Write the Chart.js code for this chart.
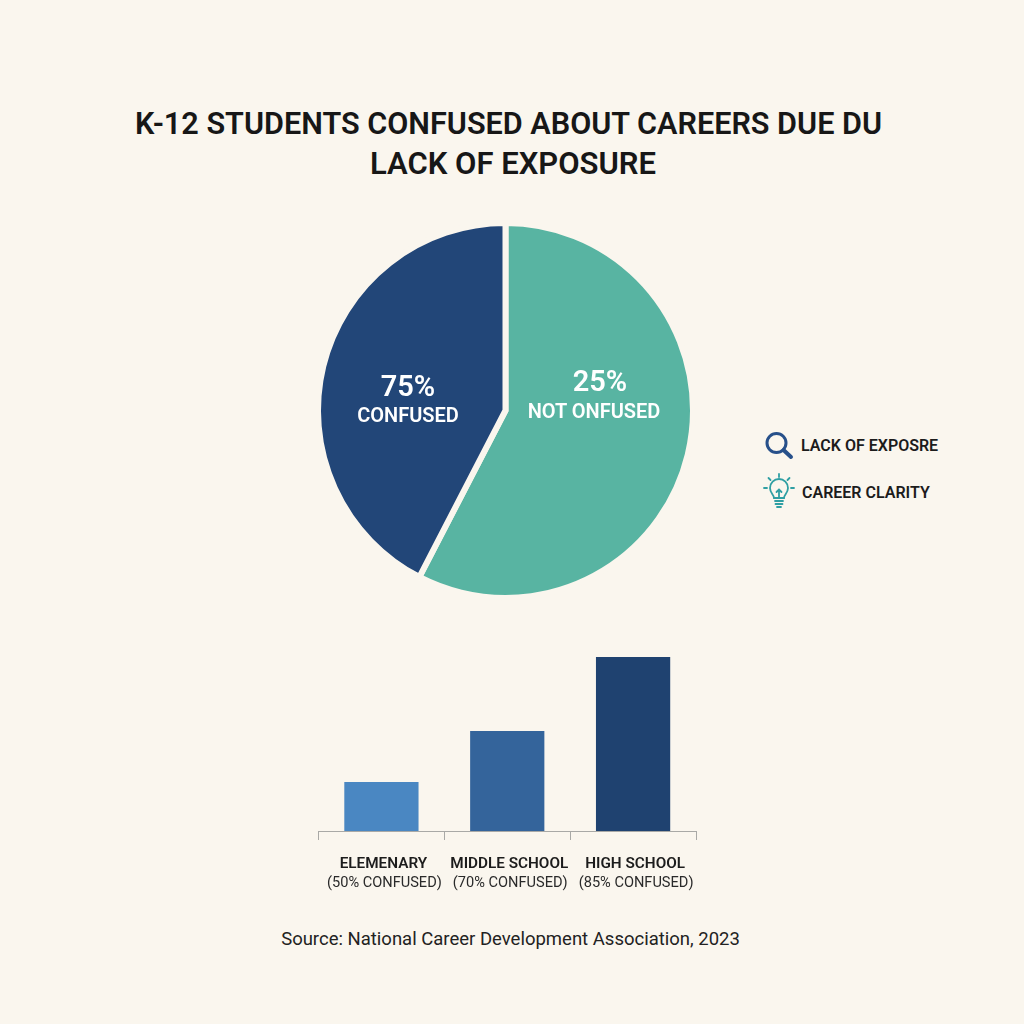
<!DOCTYPE html>
<html><head><meta charset="utf-8">
<script src="https://cdn.jsdelivr.net/npm/chart.js@4/dist/chart.umd.min.js"></script>
<style>
html,body{margin:0;padding:0;width:1024px;height:1024px;overflow:hidden;background:#faf6ee;font-family:Roboto,sans-serif;color:#171717}
canvas{position:absolute;display:block}
.t{position:absolute;white-space:nowrap;transform:translate(-50%,-50%);line-height:1}
.l{position:absolute;white-space:nowrap;transform:translateY(-50%);line-height:1;font-size:16px;font-weight:600;color:#1c1c1c}
svg{position:absolute}
</style></head><body>
<div class="t" style="left:508.500px;top:124px;font-size:30.600px;font-weight:600">K-12 STUDENTS CONFUSED ABOUT CAREERS DUE DU</div>
<div class="t" style="left:513px;top:163px;font-size:31px;font-weight:600">LACK OF EXPOSURE</div>
<canvas id="pie" width="401" height="401" style="left:305px;top:210px;width:401px;height:401px"></canvas>
<canvas id="bar" width="420" height="248" style="left:300px;top:647px;width:420px;height:248px"></canvas>
<div class="t" style="left:408px;top:386px;font-size:29px;font-weight:600;color:#fff">75%</div>
<div class="t" style="left:408px;top:415px;font-size:20px;font-weight:600;color:#fff">CONFUSED</div>
<div class="t" style="left:600px;top:381px;font-size:29px;font-weight:600;color:#fff">25%</div>
<div class="t" style="left:594px;top:411px;font-size:20px;font-weight:600;color:#fff">NOT ONFUSED</div>
<svg style="left:762px;top:428px" width="36" height="36" viewBox="0 0 36 36" fill="none">
<circle cx="14.500" cy="15" r="9.500" stroke="#27508a" stroke-width="3"/>
<line x1="21.500" y1="22" x2="29" y2="29" stroke="#27508a" stroke-width="4" stroke-linecap="round"/></svg>
<div class="l" style="left:801px;top:446px">LACK OF EXPOSRE</div>
<svg style="left:762px;top:473px" width="34" height="38" viewBox="0 0 34 38" fill="none" stroke="#2f9fa3" stroke-width="1.800" stroke-linecap="round">
<path d="M12 25c0-3-4-5-4-10a9 9 0 0 1 18 0c0 5-4 7-4 10z"/>
<path d="M17 25v-8M14.500 19l2.500-2.500 2.500 2.500"/>
<path d="M13 28h8M13.500 31h7M15 34h4"/>
<path d="M17 1v3M6.500 5l2 2M27.500 5l-2 2M2 15h3M29 15h3"/></svg>
<div class="l" style="left:802px;top:493px">CAREER CLARITY</div>
<div class="t" style="left:510.500px;top:939px;font-size:18.500px;font-weight:400;color:#222">Source: National Career Development Association, 2023</div>
<script>
const sliceNames = ["NOT ONFUSED", "CONFUSED"];
const sliceShares = [57.6, 42.4];
const sliceColors = ["#58b4a2", "#224678"];
const barNames = ["ELEMENARY", "MIDDLE SCHOOL", "HIGH SCHOOL"];
const barNotes = ["(50% CONFUSED)", "(70% CONFUSED)", "(85% CONFUSED)"];
const barHeights = [49, 100, 174];
const barColors = ["#4a87c2", "#34649b", "#1f4270"];
const bg = "#faf6ee";

new Chart(document.getElementById("pie"), {
  type: "pie",
  data: { labels: sliceNames, datasets: [{ data: sliceShares, backgroundColor: sliceColors,
    borderColor: bg, borderWidth: 6, borderAlign: "center", borderJoinStyle: "miter" }] },
  options: { responsive: false, animation: false, radius: 187.5, layout: { padding: 0 },
    plugins: { legend: { display: false }, tooltip: { enabled: false } } }
});

new Chart(document.getElementById("bar"), {
  type: "bar",
  data: { labels: barNames, datasets: [{ data: barHeights, backgroundColor: barColors, borderWidth: 0,
    categoryPercentage: 0.59, barPercentage: 1, xAxisID: "x", yAxisID: "y" }] },
  options: { responsive: false, animation: false,
    layout: { padding: { left: 18.5, right: 24, top: 10, bottom: 0 } },
    plugins: { legend: { display: false }, tooltip: { enabled: false } },
    scales: {
      y: { display: false, min: 0, max: 174 },
      x: { position: "bottom", offset: true,
        grid: { offset: true, drawOnChartArea: false, color: "#a9a9a6", tickLength: 9, tickWidth: 1 },
        border: { color: "#a9a9a6", width: 1 },
        ticks: { padding: 15, labelOffset: 2, color: "#1c1c1c", maxRotation: 0, autoSkip: false, font: { family: "Roboto", size: 15.3, weight: "600" } },
        afterFit(a) { a.height = 44; } },
      x2: { position: "bottom", type: "category", labels: barNotes, offset: true,
        grid: { display: false, drawTicks: false }, border: { display: false },
        ticks: { padding: 0, labelOffset: 3, color: "#2a2a2a", maxRotation: 0, autoSkip: false, font: { family: "Roboto", size: 14.6, weight: "400" } },
        afterFit(a) { a.height = 20; } }
    } }
});
</script>
</body></html>
